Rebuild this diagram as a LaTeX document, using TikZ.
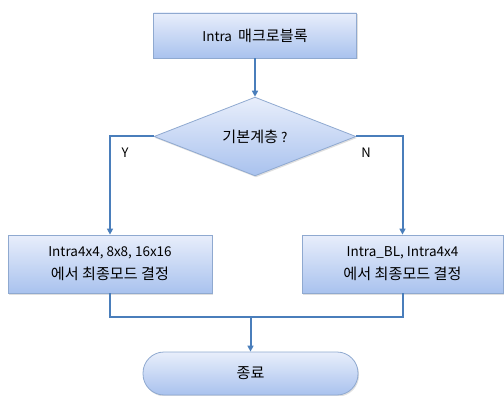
\documentclass[tikz,border=0pt]{standalone}
\usepackage{fontspec}
\setmainfont{Noto Sans CJK KR}
\newfontfamily\krfont[Scale=1.12]{Noto Sans CJK KR}
\usetikzlibrary{shapes.geometric,arrows.meta,shadows}
\definecolor{lineblue}{HTML}{4A7EBB}
\definecolor{boxedge}{HTML}{8FA9D0}
\definecolor{filltop}{HTML}{E8EEFB}
\definecolor{fillbot}{HTML}{A9C2EE}
\tikzset{
  flowbox/.style={draw=boxedge, line width=0.8pt, top color=filltop, bottom color=fillbot,
    inner sep=0pt, align=center, font=\fontsize{13.5}{23}\selectfont,
    drop shadow={shadow xshift=1pt, shadow yshift=-1.5pt, opacity=0.25}},
  conn/.style={draw=lineblue, line width=2pt},
  arr/.style={conn, -{Triangle[length=6pt,width=6pt]}},
  lbl/.style={font=\fontsize{13}{15}\selectfont, inner sep=0pt}
}
\begin{document}
\begin{tikzpicture}[x=1pt,y=1pt]
\useasboundingbox (0,0) rectangle (504,-396);
\node[flowbox, minimum width=203pt, minimum height=45pt] (start) at (255,-35.5) {Intra~~{\krfont 매크로블록}};
\node[flowbox, diamond, minimum width=202pt, minimum height=73pt] (dec) at (255,-136.5) {{\krfont 기본계층} ?};
\node[flowbox, minimum width=204pt, minimum height=58pt] (left) at (110,-264) {Intra4x4, 8x8, 16x16\\{\krfont 에서 최종모드 결정}};
\node[flowbox, minimum width=201pt, minimum height=58pt] (right) at (402.5,-264) {Intra\_BL, Intra4x4\\{\krfont 에서 최종모드 결정}};
\node[flowbox, rounded corners=21pt, minimum width=215pt, minimum height=43pt] (end) at (250.5,-373.5) {{\krfont 종료}};
\coordinate (join) at (250.5,-317);
\draw[arr] (start.south) -- (dec.north);
\draw[arr] (dec.west) -| (left.north);
\draw[arr] (dec.east) -| (right.north);
\draw[conn] (left.south) |- (join);
\draw[conn] (right.south) |- (join);
\draw[arr] (join) -- (end.north);
\node[lbl] (ylab) at (125,-153) {Y};
\node[lbl] (nlab) at (366,-153) {N};
\end{tikzpicture}
\end{document}
